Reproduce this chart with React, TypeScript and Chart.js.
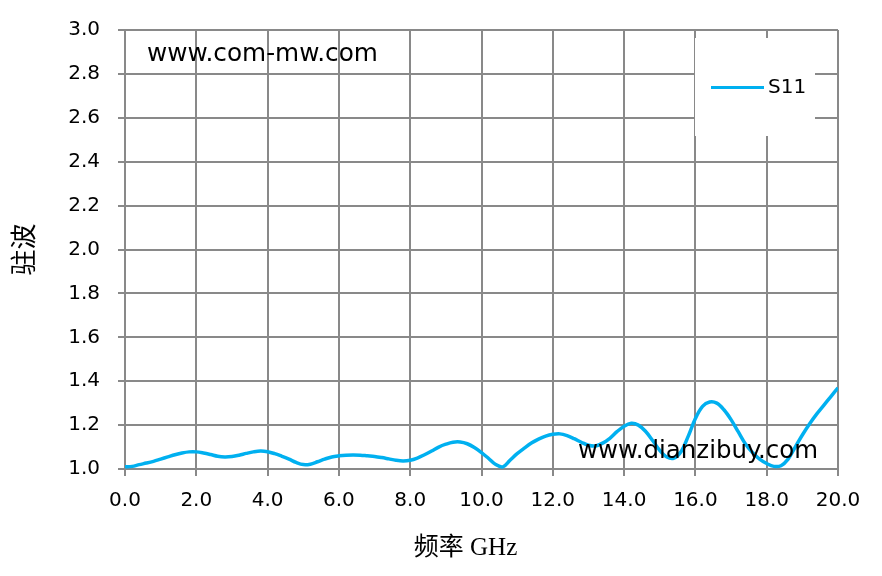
import React, { useEffect, useRef } from "react";
import { Chart, registerables } from "chart.js";

Chart.register(...registerables);

// ---- data ----
const freqGHz = [
  0.0, 0.2, 0.4, 0.6, 0.8, 1.0, 1.2, 1.4, 1.6, 1.8,
  2.0, 2.2, 2.4, 2.6, 2.8, 3.0, 3.2, 3.4, 3.6, 3.8,
  4.0, 4.2, 4.4, 4.6, 4.8, 5.0, 5.2, 5.4, 5.6, 5.8,
  6.0, 6.2, 6.4, 6.6, 6.8, 7.0, 7.2, 7.4, 7.6, 7.8,
  8.0, 8.2, 8.4, 8.6, 8.8, 9.0, 9.2, 9.4, 9.6, 9.8,
  10.0, 10.2, 10.4, 10.6, 10.8, 11.0, 11.2, 11.4, 11.6, 11.8,
  12.0, 12.2, 12.4, 12.6, 12.8, 13.0, 13.2, 13.4, 13.6, 13.8,
  14.0, 14.2, 14.4, 14.6, 14.8, 15.0, 15.2, 15.4, 15.6, 15.8,
  16.0, 16.2, 16.4, 16.6, 16.8, 17.0, 17.2, 17.4, 17.6, 17.8,
  18.0, 18.2, 18.4, 18.6, 18.8, 19.0, 19.2, 19.4, 19.6, 19.8,
  20.0,
];

const s11Vswr = [
  1.010, 1.012, 1.020, 1.027, 1.035, 1.045, 1.055, 1.065, 1.073, 1.078,
  1.078, 1.073, 1.066, 1.058, 1.055, 1.057, 1.063, 1.071, 1.078, 1.082,
  1.079, 1.070, 1.058, 1.045, 1.030, 1.020, 1.022, 1.033, 1.045, 1.055,
  1.060, 1.063, 1.064, 1.063, 1.060, 1.057, 1.052, 1.046, 1.040, 1.037,
  1.040, 1.050, 1.065, 1.082, 1.100, 1.113, 1.122, 1.123, 1.115, 1.098,
  1.075, 1.048, 1.020, 1.010, 1.040, 1.070, 1.095, 1.118, 1.136, 1.150,
  1.158, 1.160, 1.152, 1.138, 1.122, 1.108, 1.105, 1.118, 1.140, 1.170,
  1.195, 1.208, 1.200, 1.172, 1.130, 1.085, 1.055, 1.050, 1.080, 1.150,
  1.230, 1.285, 1.305, 1.300, 1.270, 1.225, 1.170, 1.115, 1.075, 1.045,
  1.025, 1.012, 1.015, 1.045, 1.100, 1.155, 1.205, 1.250, 1.290, 1.330,
  1.370,
];

const xTickValues = [0, 2, 4, 6, 8, 10, 12, 14, 16, 18, 20];
const xTickLabels = ["0.0", "2.0", "4.0", "6.0", "8.0", "10.0", "12.0", "14.0", "16.0", "18.0", "20.0"];
const yTickValues = [1.0, 1.2, 1.4, 1.6, 1.8, 2.0, 2.2, 2.4, 2.6, 2.8, 3.0];
const yTickLabels = ["1.0", "1.2", "1.4", "1.6", "1.8", "2.0", "2.2", "2.4", "2.6", "2.8", "3.0"];

const seriesName = "S11";
const yTitle = "驻波";
const xTitle = "频率 GHz";
const watermarkTop = "www.com-mw.com";
const watermarkBottom = "www.dianzibuy.com";

// ---- styles ----
const LINE_COLOR = "#00B0F0";
const GRID_COLOR = "#898989";
const TICK_FONT = '"DejaVu Sans", sans-serif';
const TITLE_FONT = '"Liberation Serif", "Noto Sans CJK SC", serif';

function fitFont(ctx: CanvasRenderingContext2D, text: string, target: number, family: string) {
  ctx.font = `20px ${family}`;
  const w = ctx.measureText(text).width;
  const size = (20 * target) / w;
  return `${size.toFixed(2)}px ${family}`;
}

const overlayPlugin = {
  id: "overlay",
  afterDraw(chart: any) {
    const ctx: CanvasRenderingContext2D = chart.ctx;
    const a = chart.chartArea;
    ctx.save();

    // watermarks
    ctx.fillStyle = "#000";
    ctx.textAlign = "left";
    ctx.textBaseline = "alphabetic";
    ctx.font = fitFont(ctx, watermarkTop, 231, TICK_FONT);
    ctx.fillText(watermarkTop, a.left + 22, a.top + 31);
    ctx.font = fitFont(ctx, watermarkBottom, 240, TICK_FONT);
    ctx.fillText(watermarkBottom, a.left + 453, a.bottom - 11);

    // legend box
    const lx = a.right - 143;
    const ly = a.top + 8;
    ctx.fillStyle = "#ffffff";
    ctx.fillRect(lx, ly, 120, 98);
    const ds = chart.data.datasets[0];
    ctx.strokeStyle = ds.borderColor;
    ctx.lineWidth = 3;
    ctx.beginPath();
    ctx.moveTo(lx + 16, ly + 49.5);
    ctx.lineTo(lx + 69, ly + 49.5);
    ctx.stroke();
    ctx.fillStyle = "#000";
    ctx.textBaseline = "middle";
    ctx.font = `20px ${TICK_FONT}`;
    ctx.fillText(ds.label, lx + 73, ly + 50);

    // x axis title
    ctx.textAlign = "center";
    ctx.textBaseline = "middle";
    ctx.font = `25px ${TITLE_FONT}`;
    ctx.fillText(xTitle, (a.left + a.right) / 2 - 16, 548);

    ctx.restore();
  },
};

export default function App() {
  const ref = useRef<HTMLCanvasElement | null>(null);

  useEffect(() => {
    document.body.style.margin = "0";
    const canvas = ref.current;
    if (!canvas) return;
    const chart = new Chart(canvas, {
      type: "line",
      data: {
        datasets: [
          {
            label: seriesName,
            data: freqGHz.map((f, i) => ({ x: f, y: s11Vswr[i] })),
            borderColor: LINE_COLOR,
            backgroundColor: LINE_COLOR,
            borderWidth: 3.5,
            pointRadius: 0,
            tension: 0.35,
            fill: false,
          },
        ],
      },
      options: {
        responsive: false,
        animation: false,
        devicePixelRatio: 1,
        layout: { padding: { top: 29, right: 44, left: 0, bottom: 0 } },
        plugins: {
          legend: { display: false },
          tooltip: { enabled: false },
        },
        scales: {
          x: {
            type: "linear",
            min: 0,
            max: 20,
            afterBuildTicks: (scale: any) => {
              scale.ticks = xTickValues.map((v) => ({ value: v }));
            },
            afterFit: (scale: any) => {
              scale.height = 107;
            },
            ticks: {
              autoSkip: false,
              maxRotation: 0,
              padding: 13,
              color: "#000",
              font: { family: TICK_FONT, size: 20 },
              callback: (_v: any, i: number) => xTickLabels[i],
            },
            grid: { color: GRID_COLOR, lineWidth: 2, drawTicks: true, tickLength: 7, tickColor: GRID_COLOR },
            border: { display: true, color: GRID_COLOR, width: 2 },
            title: { display: false },
          },
          y: {
            type: "linear",
            min: 1,
            max: 3,
            afterBuildTicks: (scale: any) => {
              scale.ticks = yTickValues.map((v) => ({ value: v }));
            },
            afterFit: (scale: any) => {
              scale.width = 125;
            },
            ticks: {
              autoSkip: false,
              padding: 18,
              color: "#000",
              font: { family: TICK_FONT, size: 20 },
              callback: (_v: any, i: number) => yTickLabels[i],
            },
            grid: { color: GRID_COLOR, lineWidth: 2, drawTicks: true, tickLength: 7, tickColor: GRID_COLOR },
            border: { display: true, color: GRID_COLOR, width: 2 },
            title: {
              display: true,
              text: yTitle,
              color: "#000",
              font: { family: TITLE_FONT, size: 26 },
              padding: { top: 11, bottom: 0 },
            },
          },
        },
      },
      plugins: [overlayPlugin],
    });
    return () => chart.destroy();
  }, []);

  return (
    <div style={{ width: 882, height: 576, background: "#fff" }}>
      <canvas ref={ref} width={882} height={576} style={{ display: "block" }} />
    </div>
  );
}
